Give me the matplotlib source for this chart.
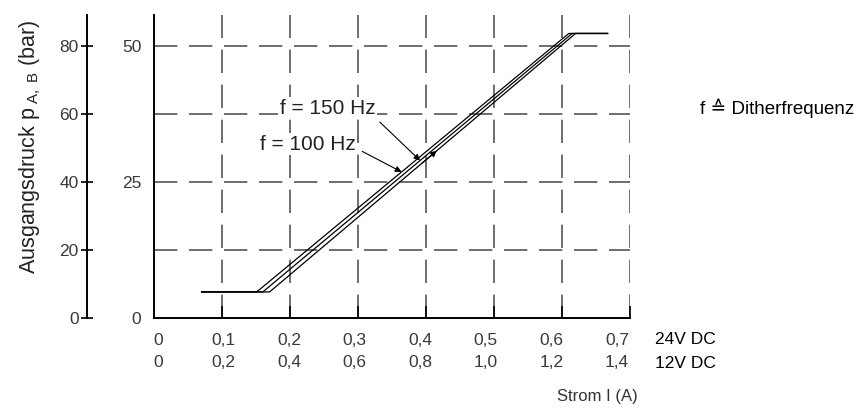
import numpy as np
import matplotlib
matplotlib.use("Agg")
import matplotlib.pyplot as plt
from matplotlib.ticker import FixedLocator

plt.rcParams['font.family'] = ['Liberation Sans', 'DejaVu Sans']
plt.rcParams['mathtext.fontset'] = 'custom'
plt.rcParams['mathtext.rm'] = 'Liberation Sans'
plt.rcParams['mathtext.it'] = 'Liberation Sans'

# current (A, 24V DC) -> pressure (right axis units)
flat_low_start = 0.07
flat_low_p = 4.8
flat_high_end = 0.667
flat_high_p = 52.4
ramp_start = [0.151, 0.160, 0.170]   # three curves
ramp_end = [0.610, 0.615, 0.620]

x24_ticks = [0, 0.1, 0.2, 0.3, 0.4, 0.5, 0.6, 0.7]
x24_labels = ["0", "0,1", "0,2", "0,3", "0,4", "0,5", "0,6", "0,7"]
x12_labels = ["0", "0,2", "0,4", "0,6", "0,8", "1,0", "1,2", "1,4"]
y_right_ticks = [0, 12.5, 25, 37.5, 50]
y_right_labels = ["0", "", "25", "", "50"]
y_left_ticks = [0, 20, 40, 60, 80]

ymax_right = 55.8
ymax_left = ymax_right * 80 / 50

fig = plt.figure(figsize=(8.62, 4.12), dpi=100)
W, H = 862, 412
ax = fig.add_axes([154 / W, 1 - 318 / H, (630 - 154) / W, (318 - 15) / H])

grid_kw = dict(color="#555555", lw=1.2, linestyle=(0, (14, 7)))
for xv in x24_ticks[1:]:
    ax.axvline(xv, **grid_kw, zorder=1)
for yv in y_right_ticks[1:]:
    ax.axhline(yv, **grid_kw, zorder=1)

# the three characteristic curves
for s, e in zip(ramp_start, ramp_end):
    xs = [flat_low_start, s, e, flat_high_end]
    ys = [flat_low_p, flat_low_p, flat_high_p, flat_high_p]
    ax.plot(xs, ys, color="black", lw=0.9, zorder=3)

ax.set_xlim(0, 0.7)
ax.set_ylim(0, ymax_right)
for sp in ["top", "right"]:
    ax.spines[sp].set_visible(False)
for sp in ["left", "bottom"]:
    ax.spines[sp].set_linewidth(1.4)

# major ticks carry the marks, minor ticks (slightly compressed spacing, as in the print) carry the labels
ax.set_xticks(x24_ticks)
ax.set_xticklabels([])
ax.tick_params(axis="x", which="major", direction="in", length=9, width=1.2)
ax.xaxis.get_major_ticks()[0].tick1line.set_visible(False)
lab_pos = [0.006 + v * 0.964 for v in x24_ticks]
ax.xaxis.set_minor_locator(FixedLocator(lab_pos))
ax.set_xticklabels([a + "\n" + b for a, b in zip(x24_labels, x12_labels)], minor=True)
ax.tick_params(axis="x", which="minor", length=0, pad=11, labelsize=12.5,
               labelcolor="#3a3a3a")
for lab in ax.get_xticklabels(minor=True):
    lab.set_linespacing(1.55)

ax.set_yticks(y_right_ticks)
ax.set_yticklabels(y_right_labels)
ax.tick_params(axis="y", length=0, pad=9, labelsize=12.5, labelcolor="#3a3a3a")

# arrows on the curves
def pt_on(i, p):
    return np.interp(p, [flat_low_p, flat_high_p], [ramp_start[i], ramp_end[i]]), p

box = dict(facecolor="white", edgecolor="none", pad=1.0)
ax.annotate("f = 150 Hz", xy=pt_on(1, 29.0), xytext=(0.185, 38.6),
            fontsize=15, color="#222222", va="center", bbox=box, zorder=4,
            arrowprops=dict(arrowstyle="-|>", color="black", lw=0.8,
                            mutation_scale=9, shrinkA=3, shrinkB=0,
                            relpos=(1.0, 0.0)))
ax.annotate("f = 100 Hz", xy=pt_on(0, 26.9), xytext=(0.156, 32.0),
            fontsize=15, color="#222222", va="center", bbox=box, zorder=4,
            arrowprops=dict(arrowstyle="-|>", color="black", lw=0.8,
                            mutation_scale=9, shrinkA=4, shrinkB=0,
                            relpos=(1.0, 0.3)))
ax.annotate("", xy=pt_on(2, 30.8), xytext=pt_on(2, 28.5),
            arrowprops=dict(arrowstyle="-|>", color="black", lw=0.8,
                            mutation_scale=9, shrinkA=0, shrinkB=0))

# left scale in bar
axl = fig.add_axes([87 / W, 1 - 318 / H, 0.001, (318 - 15) / H])
axl.set_ylim(0, ymax_left)
axl.set_yticks(y_left_ticks)
axl.set_xticks([])
for sp in ["top", "right", "bottom"]:
    axl.spines[sp].set_visible(False)
axl.spines["left"].set_linewidth(1.4)
axl.tick_params(axis="y", direction="inout", length=8, width=1.2, pad=2,
                labelsize=12.5, labelcolor="#3a3a3a")
axl.patch.set_visible(False)

fig.text(30 / W, 1 - 147 / H, r"Ausgangsdruck p$_{\ \mathrm{A,\ B}}$ (bar)",
         rotation=90, ha="center", va="center", fontsize=15.5, color="#222222")
fig.text(655 / W, 1 - 340 / H, "24V DC", ha="left", va="center", fontsize=12.5, color="black")
fig.text(655 / W, 1 - 364 / H, "12V DC", ha="left", va="center", fontsize=12.5, color="black")
fig.text(597 / W, 1 - 397 / H, "Strom I (A)", ha="center", va="center", fontsize=12, color="#333333")
fig.text(700 / W, 1 - 108 / H, "f \u2259 Ditherfrequenz", ha="left", va="center",
         fontsize=13.5, color="black")

fig.savefig("out.png", dpi=100)
